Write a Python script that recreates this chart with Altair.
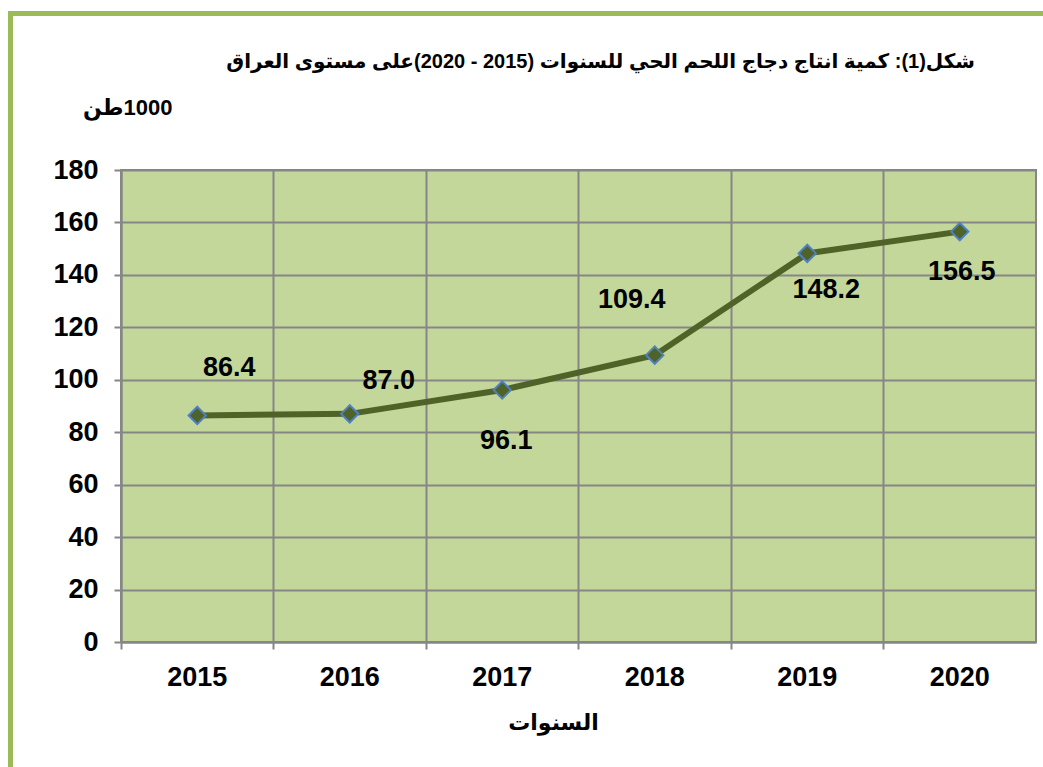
import altair as alt
import pandas as pd

# ---- data ----
years = ["2015", "2016", "2017", "2018", "2019", "2020"]
production = [86.4, 87.0, 96.1, 109.4, 148.2, 156.5]
value_labels = ["86.4", "87.0", "96.1", "109.4", "148.2", "156.5"]
y_tick_values = [0, 20, 40, 60, 80, 100, 120, 140, 160, 180]

title_text = "شكل(1): كمية انتاج دجاج اللحم الحي للسنوات (2015 - 2020)على مستوى العراق"
y_title_text = "1000طن"
x_title_text = "السنوات"

# ---- styling (not data) ----
RLE, PDF = "\u202B", "\u202C"
FONT = "Liberation Sans, Arial, DejaVu Sans"
LABEL_OFFSETS = {
    "2015": (32, -47),
    "2016": (39, -33),
    "2017": (4, 51),
    "2018": (-23, -55),
    "2019": (19, 37),
    "2020": (2, 40),
}
GRID = "#868686"
W, H = 915, 472
FS = 27

df = pd.DataFrame({"year": years, "value": production, "label": value_labels})

x_enc = alt.X(
    "year:N",
    sort=years,
    scale=alt.Scale(type="band", paddingInner=0, paddingOuter=0),
    axis=alt.Axis(
        title=RLE + x_title_text + PDF,
        titleFont=FONT, titleFontSize=22, titleFontWeight="bold", titleColor="black",
        titleX=432, titleY=80, titleBaseline="middle", titleAlign="center",
        labelFont=FONT, labelFontSize=FS, labelFontWeight="bold", labelColor="black",
        labelAngle=0, labelPadding=15,
        bandPosition=0, grid=True, gridColor=GRID, gridWidth=2,
        domainColor=GRID, domainWidth=2, tickColor=GRID, tickWidth=2, tickSize=7,
    ),
)
y_enc = alt.Y(
    "value:Q",
    scale=alt.Scale(domain=[0, 180], nice=False, zero=True),
    axis=alt.Axis(
        values=y_tick_values,
        title=RLE + y_title_text + PDF,
        titleAngle=0, titleAlign="right", titleBaseline="middle",
        titleX=51, titleY=-63,
        titleFont=FONT, titleFontSize=22, titleFontWeight="bold", titleColor="black",
        labelFont=FONT, labelFontSize=FS, labelFontWeight="bold", labelColor="black",
        labelPadding=16,
        grid=True, gridColor=GRID, gridWidth=2,
        domainColor=GRID, domainWidth=2, tickColor=GRID, tickWidth=2, tickSize=7,
    ),
)

base = alt.Chart(df)

line = base.mark_line(color="#4F6228", strokeWidth=6).encode(x=x_enc, y=y_enc)
points = base.mark_point(
    shape="diamond", filled=True, fill="#4F6228", stroke="#4F81BD",
    strokeWidth=2, size=300, opacity=1,
).encode(x=x_enc, y=y_enc)

text_layers = []
for yr, (dx, dy) in LABEL_OFFSETS.items():
    text_layers.append(
        base.transform_filter(alt.datum.year == yr)
        .mark_text(font=FONT, fontSize=FS, fontWeight="bold", color="black",
                   align="center", baseline="middle", dx=dx, dy=dy)
        .encode(x=x_enc, y=y_enc, text="label:N")
    )

title_df = pd.DataFrame({"t": [RLE + title_text + PDF]})
title_mark = alt.Chart(title_df).mark_text(
    font=FONT, fontSize=20, fontWeight="bold", color="black",
    align="right", baseline="middle",
).encode(text="t:N", x=alt.value(854), y=alt.value(-108))

frame_color = "#9BBB59"
frame_left = alt.Chart(title_df).mark_rule(color=frame_color, strokeWidth=5).encode(
    x=alt.value(-110.5), y=alt.value(-159), y2=alt.value(600)
)
frame_top = alt.Chart(title_df).mark_rule(color=frame_color, strokeWidth=5).encode(
    x=alt.value(-113), x2=alt.value(935), y=alt.value(-156.5)
)

chart = alt.layer(line, points, *text_layers, title_mark, frame_left, frame_top).properties(
    width=W,
    height=H,
    padding={"left": 121, "top": 170, "right": 7, "bottom": 125},
    autosize=alt.AutoSizeParams(type="none"),
    background="white",
).configure_view(
    fill="#C4D79B", stroke=GRID, strokeWidth=2
)

chart.save("out.html", embed_options={"renderer": "svg", "actions": False})
